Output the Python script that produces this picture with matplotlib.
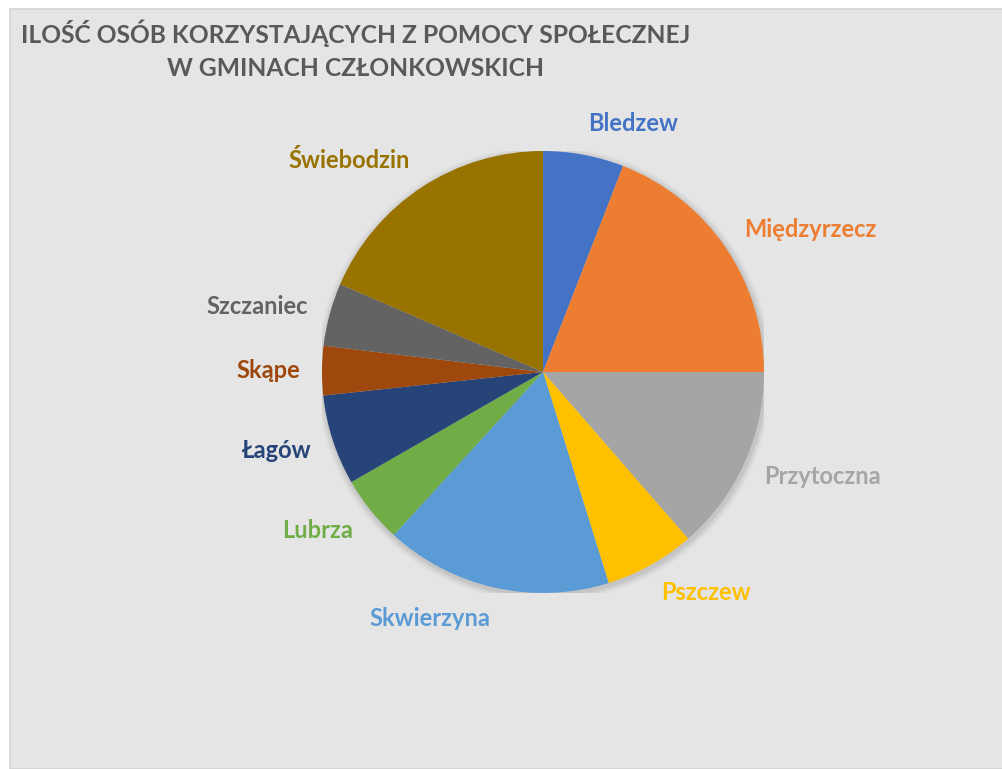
import numpy as np
import matplotlib
matplotlib.use("Agg")
import matplotlib.pyplot as plt
from matplotlib.patches import Rectangle, Circle

# Shares of each gmina (percent)
gminy = ["Bledzew", "Międzyrzecz", "Przytoczna", "Pszczew", "Skwierzyna",
         "Lubrza", "Łagów", "Skąpe", "Szczaniec", "Świebodzin"]
udzial = [5.9, 19.1, 13.6, 6.6, 16.6, 4.9, 6.6, 3.6, 4.6, 18.5]
kolory = ["#4472C4", "#ED7D31", "#A5A5A5", "#FFC000", "#5B9BD5",
          "#70AD47", "#264478", "#9E480E", "#636363", "#997300"]

plt.rcParams['font.family'] = ['Lato', 'DejaVu Sans']

fig = plt.figure(figsize=(10.03, 7.69), dpi=100)
fig.patch.set_facecolor("white")

# chart area background with thin border
fig.patches.append(Rectangle((10 / 1003, 0), 1.0, 1 - 9 / 769, transform=fig.transFigure,
                             facecolor="#E5E5E5", edgecolor="#D4D4D4", linewidth=1.2, zorder=-1))

ax = fig.add_axes([322 / 1003, 176 / 769, 442 / 1003, 442 / 769])
ax.set_zorder(2)
ax.patch.set_visible(False)

# soft shadow around the pie
for i, a in enumerate([0.05, 0.04, 0.03, 0.02]):
    ax.add_patch(Circle((0.005, -0.01), 1.0 + 0.008 * (i + 1), facecolor="#000000",
                        alpha=a, edgecolor="none", zorder=0))

wedges, texts = ax.pie(udzial, labels=gminy, colors=kolory, startangle=90,
                       counterclock=False, labeldistance=1.1, radius=1.0,
                       wedgeprops=dict(edgecolor="none"),
                       textprops=dict(fontsize=17, fontweight="bold"))
for t, c in zip(texts, kolory):
    t.set_color(c)
    # push labels a little further out vertically, like Excel's placement
    x, y = t.get_position()
    t.set_position((x, y * 1.04))

ax.set_xlim(-1, 1)
ax.set_ylim(-1, 1)
ax.set_aspect("equal")
ax.axis("off")

fig.text(356 / 1003, 1 - 33 / 769, "ILOŚĆ OSÓB KORZYSTAJĄCYCH Z POMOCY SPOŁECZNEJ",
         ha="center", va="center", fontsize=17.7, fontweight="bold", color="#595959")
fig.text(356 / 1003, 1 - 68 / 769, "W GMINACH CZŁONKOWSKICH",
         ha="center", va="center", fontsize=17.7, fontweight="bold", color="#595959")

fig.savefig("out.png", dpi=100)
